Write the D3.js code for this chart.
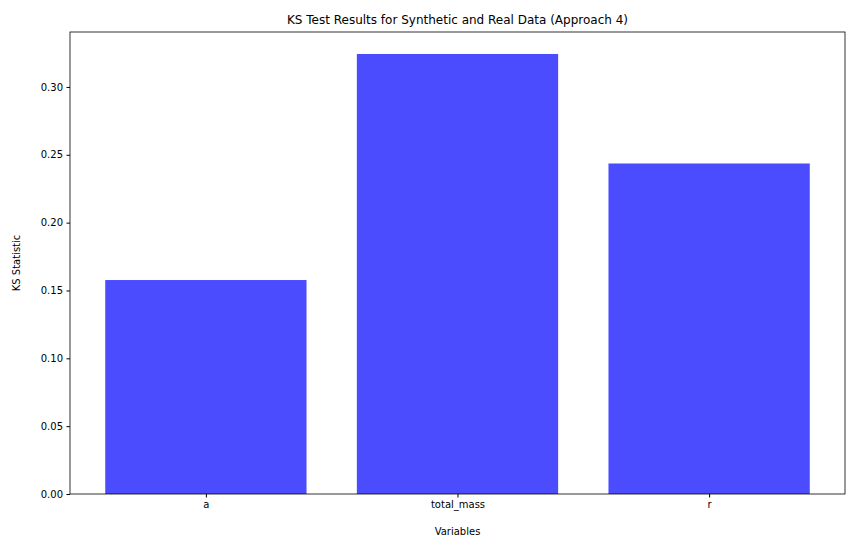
<!DOCTYPE html>
<html><head><meta charset="utf-8">
<script src="https://cdn.jsdelivr.net/npm/d3@7"></script>
<style>body{margin:0;background:#fff}text{font-family:"DejaVu Sans",sans-serif}</style>
</head><body>
<svg id="c" width="855" height="547"></svg>
<script>
const categories = ["a", "total_mass", "r"];
const values = [0.1577, 0.3243, 0.2436];
const yTicks = [0, 0.05, 0.10, 0.15, 0.20, 0.25, 0.30];

const svg = d3.select("#c");
const L = 70, R = 845, T = 32, B = 494;
const x = d3.scaleLinear().domain([-0.54, 2.54]).range([L, R]);
const y = d3.scaleLinear().domain([0, 0.3405]).range([B, T]);

svg.selectAll("rect.bar").data(values).join("rect")
  .attr("class", "bar")
  .attr("x", (d, i) => x(i - 0.4))
  .attr("width", (d, i) => x(i + 0.4) - x(i - 0.4))
  .attr("y", d => y(d))
  .attr("height", d => B - y(d))
  .attr("fill", "#0000ff").attr("fill-opacity", 0.7);

const ya = svg.append("g").attr("transform", `translate(${L},0)`)
  .call(d3.axisLeft(y).tickValues(yTicks).tickFormat(d3.format(".2f")).tickSize(3.5).tickPadding(3.5));
const xa = svg.append("g").attr("transform", `translate(0,${B})`)
  .call(d3.axisBottom(x).tickValues([0, 1, 2]).tickFormat(i => categories[i]).tickSize(3.5).tickPadding(3.5));
[ya, xa].forEach(g => { g.selectAll("text").attr("font-size", 10).attr("fill", "#000"); g.select(".domain").remove(); g.selectAll("line").attr("stroke", "#000"); });

svg.append("rect").attr("x", L).attr("y", T).attr("width", R - L).attr("height", B - T)
  .attr("fill", "none").attr("stroke", "#000").attr("stroke-width", 0.8);

svg.append("text").attr("x", (L + R) / 2).attr("y", 24).attr("text-anchor", "middle")
  .attr("font-size", 12).text("KS Test Results for Synthetic and Real Data (Approach 4)");
svg.append("text").attr("x", (L + R) / 2).attr("y", 535).attr("text-anchor", "middle")
  .attr("font-size", 10).text("Variables");
svg.append("text").attr("transform", `translate(20,${(T + B) / 2}) rotate(-90)`).attr("text-anchor", "middle")
  .attr("font-size", 10).text("KS Statistic");
</script>
</body></html>
